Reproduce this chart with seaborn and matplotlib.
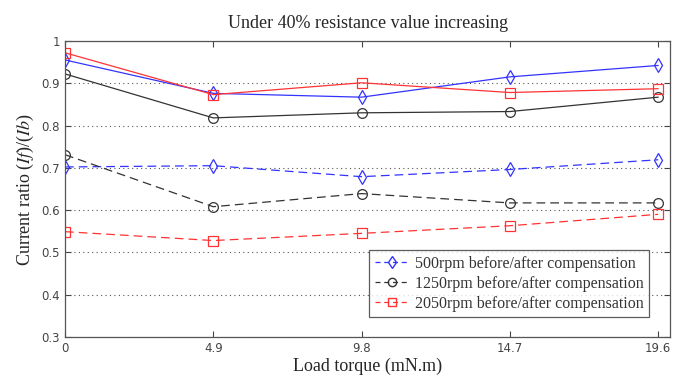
import pandas as pd
import matplotlib.pyplot as plt
import seaborn as sns
from matplotlib.lines import Line2D

# Data
torque = [0, 4.9, 9.8, 14.7, 19.6]
rpm_labels = ["500rpm", "1250rpm", "2050rpm"]

after_500 = [0.955, 0.876, 0.867, 0.915, 0.942]
after_1250 = [0.922, 0.818, 0.830, 0.833, 0.867]
after_2050 = [0.972, 0.873, 0.901, 0.878, 0.887]

before_500 = [0.702, 0.705, 0.679, 0.696, 0.719]
before_1250 = [0.731, 0.608, 0.639, 0.617, 0.617]
before_2050 = [0.549, 0.528, 0.545, 0.563, 0.590]

colors = ["#3333ff", "#333333", "#ff3333"]
markers = ["d", "o", "s"]

sns.set_style("ticks")
plt.rcParams["mathtext.fontset"] = "stix"

fig, ax = plt.subplots(figsize=(6.84, 3.86), dpi=100)
fig.subplots_adjust(left=0.095, right=0.98, top=0.894, bottom=0.127)

series = [
    (after_500, before_500),
    (after_1250, before_1250),
    (after_2050, before_2050),
]
for (after, before), color, marker in zip(series, colors, markers):
    sns.lineplot(x=torque, y=after, ax=ax, color=color, marker=marker,
                 markersize=7, markerfacecolor="none", markeredgecolor=color,
                 markeredgewidth=0.9, linewidth=0.9)
    sns.lineplot(x=torque, y=before, ax=ax, color=color, marker=marker,
                 markersize=7, markerfacecolor="none", markeredgecolor=color,
                 markeredgewidth=0.9, linewidth=0.9, linestyle=(0, (7, 4)))

ax.set_xlim(0, 20)
ax.set_ylim(0.3, 1.0)
ax.set_xticks(torque)
ax.set_xticklabels(["0", "4.9", "9.8", "14.7", "19.6"])
ax.set_yticks([0.3, 0.4, 0.5, 0.6, 0.7, 0.8, 0.9, 1.0])
ax.set_yticklabels(["0.3", "0.4", "0.5", "0.6", "0.7", "0.8", "0.9", "1"])
ax.yaxis.grid(True, linestyle=(0, (1, 3)), color="#555555", linewidth=0.8)

ax.tick_params(direction="in", top=True, right=True, labelsize=8.5,
               colors="#444444", length=4, width=0.8)
for lab in ax.get_xticklabels() + ax.get_yticklabels():
    lab.set_family("DejaVu Sans")
for sp in ax.spines.values():
    sp.set_visible(True)
    sp.set_color("#555555")
    sp.set_linewidth(0.9)

serif = "Liberation Serif"
ax.set_title("Under 40% resistance value increasing", family=serif,
             fontsize=13, pad=9)
ax.set_xlabel("Load torque (mN.m)", family=serif, fontsize=13, labelpad=2)
ax.set_ylabel(r"Current ratio ($If$)/($Ib$)", family=serif, fontsize=13,
              labelpad=4)

handles = [
    Line2D([], [], color=c, marker=m, markersize=6, markerfacecolor="none",
           linestyle=(0, (4, 3)), linewidth=0.9)
    for c, m in zip(colors, markers)
]
labels = [f"{r} before/after compensation" for r in rpm_labels]
leg = ax.legend(handles, labels, loc="lower right",
                bbox_to_anchor=(0.978, 0.04), prop={"family": serif, "size": 11.5},
                frameon=True, fancybox=False, edgecolor="#333333",
                handlelength=2.2, handletextpad=0.3, borderpad=0.35,
                labelspacing=0.25)
leg.get_frame().set_linewidth(0.9)
for t in leg.get_texts():
    t.set_color("#333333")

fig.savefig("out.png", dpi=100)
